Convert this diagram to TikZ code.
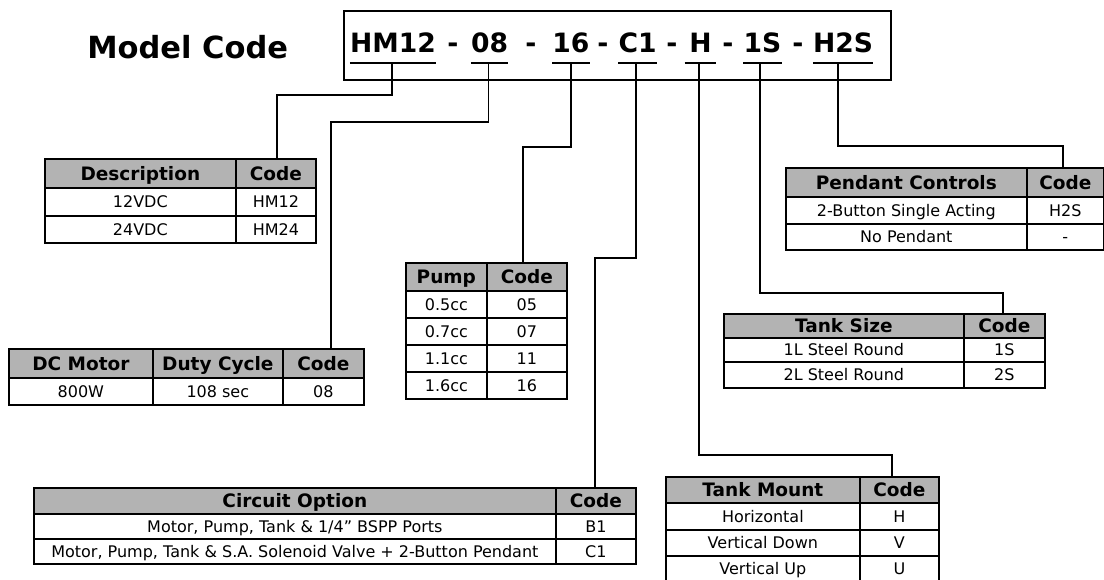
\documentclass[tikz,border=0pt]{standalone}
\usepackage{fontspec}
\setmainfont{DejaVu Sans}
\definecolor{hdr}{RGB}{179,179,179}
\tikzset{
  cellbase/.style={draw=black, line width=1.7pt, inner sep=0pt, anchor=north west},
  hcell/.style={cellbase, fill=hdr, font=\fontsize{18.5}{21}\selectfont\bfseries, text height=13.5pt, text depth=0pt},
  bcell/.style={cellbase, fill=white, font=\fontsize{16}{18}\selectfont, text height=11.7pt, text depth=0pt},
  conn/.style={draw=black, line width=1.8pt},
  tok/.style={inner sep=0pt, anchor=base, font=\fontsize{26.6}{30}\selectfont\bfseries},
}
\newcommand\cell[7]{\node[#6, minimum width=#4pt, minimum height=#5pt] (#1) at (#2,#3) {#7};}
\begin{document}
\begin{tikzpicture}[x=1pt,y=-1pt]
\useasboundingbox (0,0) rectangle (1104,579);
\fill[white] (0,0) rectangle (1104,579);
\clip (0,0) rectangle (1104,579);

% title and code box
\node[inner sep=0pt, anchor=base, font=\fontsize{30.5}{34}\selectfont\bfseries] (title) at (187.7,58) {Model Code};
\node[draw=black, line width=1.8pt, minimum width=547pt, minimum height=69pt, inner sep=0pt, anchor=north west] (codebox) at (343,10) {};

\node[tok] (c-hm12) at (393,52) {HM12};
\node[tok] (d1) at (453,52) {-};
\node[tok] (c-08) at (489.6,52) {08};
\node[tok] (d2) at (531,52) {-};
\node[tok] (c-16) at (570.8,52) {16};
\node[tok] (d3) at (603,52) {-};
\node[tok] (c-c1) at (637.7,52) {C1};
\node[tok] (d4) at (672,52) {-};
\node[tok, inner xsep=4.5pt] (c-h) at (700.5,52) {H};
\node[tok] (d5) at (728,52) {-};
\node[tok] (c-1s) at (762.5,52) {1S};
\node[tok] (d6) at (798,52) {-};
\node[tok] (c-h2s) at (843,52) {H2S};

\coordinate (u-hm12) at (392,63);
\coordinate (u-08) at (488.5,63);
\coordinate (u-16) at (570.7,63);
\coordinate (u-c1) at (636,63);
\coordinate (u-h) at (699,63);
\coordinate (u-1s) at (760,63);
\coordinate (u-h2s) at (838,63);

\foreach \t in {hm12, 08, 16, c1, h, 1s, h2s}
  \draw[conn] (c-\t.west |- u-\t) -- (c-\t.east |- u-\t);

% Description table
\cell{desc-h}{44}{158}{191}{29}{hcell}{Description}
\cell{desc-code}{235}{158}{80}{29}{hcell}{Code}
\cell{desc-a1}{44}{187}{191}{28}{bcell}{12VDC}
\cell{desc-a2}{235}{187}{80}{28}{bcell}{HM12}
\cell{desc-b1}{44}{215}{191}{27}{bcell}{24VDC}
\cell{desc-b2}{235}{215}{80}{27}{bcell}{HM24}

% DC motor table
\cell{motor-h1}{8}{348}{144}{29}{hcell}{DC Motor}
\cell{motor-h2}{152}{348}{130}{29}{hcell}{Duty Cycle}
\cell{motor-code}{282}{348}{81}{29}{hcell}{Code}
\cell{motor-a1}{8}{377}{144}{27}{bcell}{800W}
\cell{motor-a2}{152}{377}{130}{27}{bcell}{108 sec}
\cell{motor-a3}{282}{377}{81}{27}{bcell}{08}

% Pump table
\cell{pump-h}{405}{262}{81}{28}{hcell}{Pump}
\cell{pump-code}{486}{262}{80}{28}{hcell}{Code}
\cell{pump-a1}{405}{290}{81}{27}{bcell}{0.5cc}
\cell{pump-a2}{486}{290}{80}{27}{bcell}{05}
\cell{pump-b1}{405}{317}{81}{27}{bcell}{0.7cc}
\cell{pump-b2}{486}{317}{80}{27}{bcell}{07}
\cell{pump-c1}{405}{344}{81}{27}{bcell}{1.1cc}
\cell{pump-c2}{486}{344}{80}{27}{bcell}{11}
\cell{pump-d1}{405}{371}{81}{27}{bcell}{1.6cc}
\cell{pump-d2}{486}{371}{80}{27}{bcell}{16}

% Pendant table
\cell{pend-h}{785}{167}{241}{29}{hcell}{Pendant Controls}
\cell{pend-code}{1026}{167}{77}{29}{hcell}{Code}
\cell{pend-a1}{785}{196}{241}{27}{bcell}{2-Button Single Acting}
\cell{pend-a2}{1026}{196}{77}{27}{bcell}{H2S}
\cell{pend-b1}{785}{223}{241}{26}{bcell}{No Pendant}
\cell{pend-b2}{1026}{223}{77}{26}{bcell}{-}

% Tank size table
\cell{size-h}{723}{313}{240}{24}{hcell}{Tank Size}
\cell{size-code}{963}{313}{81}{24}{hcell}{Code}
\cell{size-a1}{723}{337}{240}{24}{bcell}{1L Steel Round}
\cell{size-a2}{963}{337}{81}{24}{bcell}{1S}
\cell{size-b1}{723}{361}{240}{26}{bcell}{2L Steel Round}
\cell{size-b2}{963}{361}{81}{26}{bcell}{2S}

% Circuit option table
\cell{circ-h}{33}{487}{522}{26}{hcell}{Circuit Option}
\cell{circ-code}{555}{487}{80}{26}{hcell}{Code}
\cell{circ-a1}{33}{513}{522}{25}{bcell}{Motor, Pump, Tank \& 1/4” BSPP Ports}
\cell{circ-a2}{555}{513}{80}{25}{bcell}{B1}
\cell{circ-b1}{33}{538}{522}{25}{bcell}{Motor, Pump, Tank \& S.A. Solenoid Valve + 2-Button Pendant}
\cell{circ-b2}{555}{538}{80}{25}{bcell}{C1}

% Tank mount table
\cell{mount-h}{665}{476}{194}{26}{hcell}{Tank Mount}
\cell{mount-code}{859}{476}{79}{26}{hcell}{Code}
\cell{mount-a1}{665}{502}{194}{27}{bcell}{Horizontal}
\cell{mount-a2}{859}{502}{79}{27}{bcell}{H}
\cell{mount-b1}{665}{529}{194}{26}{bcell}{Vertical Down}
\cell{mount-b2}{859}{529}{79}{26}{bcell}{V}
\cell{mount-c1}{665}{555}{194}{26}{bcell}{Vertical Up}
\cell{mount-c2}{859}{555}{79}{26}{bcell}{U}

% connectors
\coordinate (j-hm12) at (277,95);
\coordinate (j-08) at (331,122);
\coordinate (j-16) at (523,147);
\coordinate (j-c1) at (595,258);
\coordinate (j-h) at (892,455);
\coordinate (j-1s) at (1003,293);
\coordinate (j-h2s) at (1063,146);

\draw[conn] (u-hm12) |- (j-hm12) -- (j-hm12 |- desc-code.north);
\draw[conn] (u-08) |- (j-08) -- (j-08 |- motor-code.north);
\draw[conn] (u-16) |- (j-16) -- (j-16 |- pump-code.north);
\draw[conn] (u-c1) |- (j-c1) -- (j-c1 |- circ-code.north);
\draw[conn] (u-h) |- (j-h) -- (j-h |- mount-code.north);
\draw[conn] (u-1s) |- (j-1s) -- (j-1s |- size-code.north);
\draw[conn] (u-h2s) |- (j-h2s) -- (j-h2s |- pend-code.north);
\end{tikzpicture}
\end{document}
